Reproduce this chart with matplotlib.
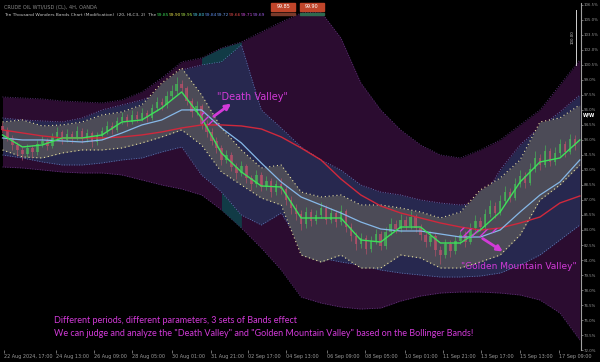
import numpy as np
import matplotlib.pyplot as plt
from matplotlib.patches import Rectangle

plt.rcParams['hatch.linewidth'] = 1.0

# sample positions (bar index) for the band / average curves
xs = np.arange(0, 120, 4)

outer_up = [97.3, 97.2, 97.1, 96.9, 96.8, 96.7, 97.0, 97.8, 99.2, 100.8, 101.2, 102.2, 102.8, 103.8, 104.8,
            105.7, 105.8, 103.2, 98.7, 96.0, 94.0, 92.5, 91.5, 91.2, 92.0, 93.0, 94.5, 96.0, 98.5, 101.0]
outer_lo = [90.3, 90.2, 90.0, 89.8, 89.7, 89.7, 89.5, 89.0, 88.5, 88.1, 87.5, 86.0, 84.2, 82.2, 80.0,
            77.3, 76.7, 76.3, 76.1, 76.2, 76.9, 77.4, 77.7, 77.8, 77.8, 77.7, 77.5, 77.0, 75.7, 73.0]
mid_up = [95.2, 95.0, 94.9, 94.8, 95.2, 96.0, 96.5, 97.0, 97.7, 100.0, 100.5, 100.8, 102.5, 96.0, 94.2,
          92.3, 91.0, 90.0, 88.5, 87.8, 87.5, 87.0, 86.7, 86.5, 86.7, 90.0, 92.5, 94.3, 95.8, 97.5]
mid_lo = [91.5, 91.2, 90.8, 90.5, 90.5, 90.7, 91.0, 91.2, 91.8, 92.3, 89.5, 87.8, 85.5, 84.5, 85.7,
          82.5, 81.2, 80.8, 80.5, 80.0, 79.7, 79.5, 79.3, 79.3, 79.4, 79.7, 80.5, 81.5, 83.0, 84.5]
inner_up = [94.8, 95.0, 94.4, 94.5, 94.8, 95.5, 95.8, 96.5, 98.7, 100.2, 97.5, 94.2, 92.0, 90.2, 90.5,
            87.8, 87.3, 87.5, 86.5, 86.5, 86.2, 85.8, 85.2, 85.8, 88.0, 89.2, 91.0, 94.8, 95.2, 96.5]
inner_lo = [92.0, 91.3, 91.2, 91.7, 92.0, 92.0, 92.2, 92.7, 93.3, 94.0, 92.5, 89.8, 88.5, 87.2, 86.5,
            81.5, 80.8, 81.5, 80.2, 80.2, 81.5, 81.2, 80.2, 80.2, 80.8, 81.5, 83.5, 87.0, 88.5, 90.5]
ma_fast = [93.5, 92.3, 92.5, 93.2, 93.2, 93.5, 94.8, 95.0, 96.2, 97.8, 95.2, 91.7, 89.8, 88.4, 88.3,
           85.2, 85.2, 85.2, 83.0, 82.8, 84.3, 84.3, 82.7, 82.7, 84.0, 85.8, 88.8, 90.8, 91.2, 93.0]
ma_mid = [93.2, 93.0, 93.0, 92.9, 92.8, 93.0, 93.7, 94.5, 95.0, 96.0, 96.0, 94.2, 92.7, 90.7, 88.8,
          87.3, 86.5, 85.7, 84.8, 84.1, 83.9, 83.9, 83.6, 83.3, 83.3, 84.0, 85.8, 87.5, 88.8, 91.0]
ma_slow = [94.0, 93.7, 93.4, 93.2, 93.2, 93.2, 93.3, 93.5, 93.8, 94.2, 94.5, 94.5, 94.4, 94.1, 93.3,
           92.2, 91.0, 89.1, 87.5, 86.4, 85.7, 85.2, 84.7, 84.3, 84.0, 84.2, 84.7, 85.3, 86.7, 87.4]

# candles
first_open = 94.4
closes = [94.0, 93.2, 92.5, 92.0, 91.6, 92.2, 91.8, 92.6, 92.9, 92.4, 93.3, 93.8, 93.0, 93.6, 93.2, 93.9,
          93.1, 93.7, 92.8, 93.4, 93.9, 94.4, 94.0, 94.9, 95.3, 94.8, 95.5, 95.1, 95.7, 95.2, 96.2, 96.8,
          96.5, 97.4, 97.9, 98.6, 98.2, 96.9, 95.8, 96.4, 94.6, 93.8, 92.9, 92.2, 91.0, 91.5, 90.3, 89.7,
          90.4, 89.2, 88.6, 89.5, 88.3, 88.9, 87.8, 88.6, 88.1, 87.0, 86.2, 85.6, 84.6, 85.8, 84.9, 85.5,
          86.2, 85.0, 85.7, 84.8, 85.9, 84.3, 83.4, 82.6, 83.2, 82.1, 82.9, 83.6, 82.4, 83.8, 84.6, 84.1,
          85.0, 84.4, 85.3, 84.2, 83.5, 82.8, 83.4, 82.0, 81.5, 82.6, 81.9, 82.9, 83.5, 82.8, 84.2, 84.9,
          84.3, 85.6, 86.4, 85.7, 86.9, 87.8, 87.2, 88.6, 89.4, 88.7, 90.1, 91.2, 90.5, 91.9, 90.8, 91.7,
          92.6, 91.8, 93.1, 92.4]
highs = [94.8, 94.3, 93.5, 92.8, 92.3, 92.6, 92.5, 93.0, 93.4, 93.2, 93.7, 94.3, 94.0, 94.1, 93.9, 94.4,
         94.2, 94.1, 93.9, 93.8, 94.3, 94.9, 94.8, 95.3, 95.8, 95.6, 96.0, 95.9, 96.2, 96.0, 96.6, 97.3,
         97.2, 97.9, 98.5, 99.3, 99.0, 98.4, 97.2, 96.9, 96.6, 95.0, 94.2, 93.3, 92.5, 92.0, 91.8, 90.7,
         90.9, 90.6, 89.5, 90.0, 89.8, 89.4, 89.2, 89.0, 89.2, 88.4, 87.4, 86.6, 86.0, 86.3, 86.1, 86.0,
         86.8, 86.5, 86.2, 86.0, 86.5, 86.1, 84.7, 83.8, 83.7, 83.5, 83.4, 84.1, 83.9, 84.3, 85.2, 85.0,
         85.6, 85.4, 85.9, 85.6, 84.6, 83.9, 83.9, 83.7, 82.4, 83.1, 83.0, 83.4, 84.0, 83.9, 84.7, 85.5,
         85.3, 86.1, 87.0, 86.8, 87.5, 88.4, 88.2, 89.2, 90.0, 89.8, 90.7, 91.9, 91.6, 92.5, 92.2, 92.3,
         93.1, 92.9, 93.6, 93.5]
lows = [93.7, 92.9, 92.0, 91.4, 91.0, 91.3, 91.2, 91.5, 92.3, 92.0, 92.2, 93.0, 92.6, 92.8, 92.7, 93.0,
        92.7, 92.8, 92.3, 92.5, 93.1, 93.6, 93.6, 93.8, 94.6, 94.4, 94.6, 94.8, 94.9, 94.8, 95.0, 95.9,
        96.0, 96.2, 97.1, 97.6, 97.8, 96.5, 95.3, 95.5, 94.1, 93.3, 92.5, 91.7, 90.5, 90.7, 89.9, 89.1,
        89.4, 88.7, 88.0, 88.3, 87.9, 88.0, 87.3, 87.5, 87.6, 86.5, 85.6, 85.0, 84.0, 84.2, 84.4, 84.6,
        85.2, 84.6, 84.7, 84.3, 84.5, 83.8, 82.9, 82.0, 82.2, 81.6, 81.8, 82.6, 82.0, 82.1, 83.5, 83.7,
        83.8, 84.0, 84.1, 83.8, 83.0, 82.3, 82.4, 81.4, 80.6, 81.2, 81.3, 81.6, 82.6, 82.3, 82.6, 83.9,
        83.9, 84.0, 85.3, 85.2, 85.5, 86.6, 86.8, 87.0, 88.3, 88.2, 88.5, 89.8, 90.0, 90.3, 90.4, 90.5,
        91.4, 91.3, 91.6, 92.0]

time_labels = ['22 Aug 2024, 17:00', '24 Aug 13:00', '26 Aug 09:00', '28 Aug 05:00', '30 Aug 01:00',
               '31 Aug 21:00', '02 Sep 17:00', '04 Sep 13:00', '06 Sep 09:00', '08 Sep 05:00',
               '10 Sep 01:00', '11 Sep 21:00', '13 Sep 17:00', '15 Sep 13:00', '17 Sep 09:00']
time_ticks = [0.4, 10.8, 18.4, 26.0, 34.0, 41.8, 49.4, 57.0, 65.2, 72.8, 80.8, 88.6, 96.2, 104.0, 111.8]

# indicator legend values in the header
legend_vals = ['99.85', '99.90', '99.95', '99.80', '99.84', '99.72', '99.66', '99.71', '99.69']
legend_cols = ['#39d353', '#e6e04a', '#a8e04a', '#4ac8e0', '#5a8ae6', '#6a9ae6', '#e04a4a', '#c84ad8', '#9a5ae0']

bg = 'black'
fig = plt.figure(figsize=(6, 3.62), dpi=100, facecolor=bg)
ax = fig.add_axes([0, 0.033, 0.968, 0.959], facecolor=bg)

# outer band (purple) with teal segments
ax.fill_between(xs, outer_lo, outer_up, color='#2b0c30', lw=0, zorder=1)
ax.plot(xs, outer_up, color='#6a3c8c', lw=0.6, ls=(0, (1, 2)), zorder=1.1)
ax.plot(xs, outer_lo, color='#6a3c8c', lw=0.6, ls=(0, (1, 2)), zorder=1.1)
ax.fill_between(xs, mid_up, outer_up, where=(xs >= 38) & (xs <= 48), color='#113b46', lw=0, zorder=1.2)
ax.fill_between(xs, outer_lo, mid_lo, where=(xs >= 43) & (xs <= 50), color='#113b46', lw=0, zorder=1.2)

# middle band (navy)
ax.fill_between(xs, mid_lo, mid_up, color='#27284f', lw=0, zorder=2)
ax.plot(xs, mid_up, color='#6f80c8', lw=0.6, ls=(0, (1, 2)), zorder=2.1)
ax.plot(xs, mid_lo, color='#6f80c8', lw=0.6, ls=(0, (1, 2)), zorder=2.1)

# inner band (gray)
ax.fill_between(xs, inner_lo, inner_up, color='#4c4b57', lw=0, zorder=3)
ax.plot(xs, inner_up, color='#e8e0a0', lw=0.8, ls=(0, (1, 2.5)), zorder=3.1)
ax.plot(xs, inner_lo, color='#e8e0a0', lw=0.8, ls=(0, (1, 2.5)), zorder=3.1)

# candles
idx = np.arange(len(closes))
opens = np.array([first_open] + closes[:-1])
closes_a = np.array(closes)
up = closes_a >= opens
col = np.where(up, '#46b858', '#b9506a')
ax.vlines(idx, lows, highs, colors=col, lw=0.6, alpha=0.75, zorder=4)
ax.bar(idx, closes_a - opens, bottom=opens, width=0.5, color=col, alpha=0.75, lw=0, zorder=4)

# moving averages
ax.plot(xs, ma_slow, color='#d0283c', lw=1.0, zorder=5)
ax.plot(xs, ma_mid, color='#86b8e8', lw=0.9, zorder=5)
ax.plot(xs, ma_fast, color='#3ee05a', lw=1.0, zorder=5)

# crossing zones
mag = '#d23ad8'
fm = np.array(ma_mid)
fs = np.array(ma_slow)
ax.fill_between(xs, fm, fs, where=(xs >= 38) & (xs <= 46) & (fm > fs), interpolate=True,
                facecolor='none', edgecolor=mag, hatch='////', lw=0, zorder=6)
ax.fill_between(xs, fm, fs, where=(xs >= 92) & (xs <= 102) & (fs > fm), interpolate=True,
                facecolor='none', edgecolor=mag, hatch='////', lw=0, zorder=6)

ax.annotate('', xy=(46.4, 96.8), xytext=(42.0, 95.2),
            arrowprops=dict(arrowstyle='-|>', color=mag, lw=2, mutation_scale=8), zorder=7)
ax.text(50.2, 97.3, '"Death Valley"', color=mag, fontsize=7, ha='center', va='center', zorder=7)
ax.annotate('', xy=(101, 81.7), xytext=(96, 83.3),
            arrowprops=dict(arrowstyle='-|>', color=mag, lw=2, mutation_scale=8), zorder=7)
ax.text(103.8, 80.4, '"Golden Mountain Valley"', color=mag, fontsize=6.5, ha='center', va='center', zorder=7)

ax.text(10.4, 75.0, 'Different periods, different parameters, 3 sets of Bands effect',
        color=mag, fontsize=6.5, family='Lato', va='center', zorder=7)
ax.text(10.4, 73.7, 'We can judge and analyze the "Death Valley" and "Golden Mountain Valley" based on the Bollinger Bands!',
        color=mag, fontsize=6.5, family='Lato', va='center', zorder=7)

# axes
ax.set_xlim(-0.5, 116.2)
ax.set_ylim(72.0, 106.7)
ax.yaxis.tick_right()
yt = np.arange(106.5, 71.9, -1.5)
ax.set_yticks(yt)
ax.set_yticklabels([f'{v:.1f}%' for v in yt])
ax.set_xticks(time_ticks)
ax.set_xticklabels(time_labels)
ax.tick_params(axis='y', colors='#9a9a9a', labelsize=2.8, length=1.5, width=0.5, pad=0.6)
ax.tick_params(axis='x', colors='#9a9a9a', labelsize=3.5, length=2, width=0.5, pad=1)
for lab in ax.get_xticklabels():
    lab.set_ha('left')
for s in ['top', 'left', 'bottom']:
    ax.spines[s].set_visible(False)
ax.spines['right'].set_color('#a0a0a0')
ax.spines['right'].set_linewidth(0.8)

# price-scale marker at top right
ax.plot([0.992, 0.992], [0.82, 0.98], transform=ax.transAxes, color='#d0d0d0', lw=0.7, zorder=8)
ax.text(0.986, 0.9, '100.00', transform=ax.transAxes, color='#c8c8c8', fontsize=2.8,
        rotation=90, ha='center', va='center', zorder=8)

# header
fig.text(0.007, 0.985, 'CRUDE OIL WTI/USD (CL), 4H, OANDA', color='#8a8a8a', fontsize=3.6, va='top')
fig.text(0.007, 0.965, 'Ten Thousand Wonders Bands Chart (Modification)  (20, HLC3, 2)  The',
         color='#c8c8c8', fontsize=3.2, va='top')
for i, (v, c) in enumerate(zip(legend_vals, legend_cols)):
    fig.text(0.262 + i * 0.02, 0.965, v, color=c, fontsize=3.2, va='top')
fig.patches.append(Rectangle((0.452, 0.97), 0.04, 0.022, transform=fig.transFigure, color='#c0452a'))
fig.patches.append(Rectangle((0.5, 0.97), 0.04, 0.022, transform=fig.transFigure, color='#c0452a'))
fig.patches.append(Rectangle((0.452, 0.958), 0.04, 0.005, transform=fig.transFigure, color='#7a3a2a'))
fig.patches.append(Rectangle((0.5, 0.958), 0.04, 0.005, transform=fig.transFigure, color='#2e6a50'))
fig.text(0.472, 0.981, '99.85', color='white', fontsize=3.5, ha='center', va='center')
fig.text(0.52, 0.981, '99.90', color='white', fontsize=3.5, ha='center', va='center')
ax.text(1.003, 95.5, 'W/W', transform=ax.get_yaxis_transform(), color='white', fontsize=3.4,
        fontweight='bold', va='center')

fig.savefig('out.png', dpi=100, facecolor=bg)
